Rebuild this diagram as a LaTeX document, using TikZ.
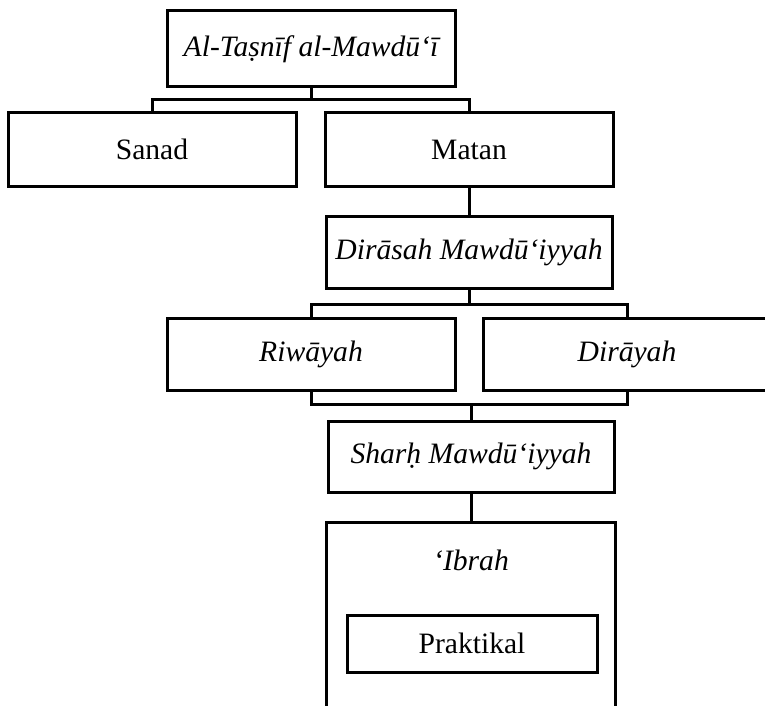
\documentclass[tikz,border=0pt]{standalone}
\usepackage{fontspec}
\setmainfont{Liberation Serif}
\begin{document}
\begin{tikzpicture}[x=1pt, y=-1pt, line width=3pt,
    every node/.style={font=\fontsize{29.6}{34}\selectfont},
    box/.style={draw, minimum width=288pt, minimum height=73pt, inner sep=0pt}]
		\useasboundingbox (0,0) rectangle (765,706);
		\clip (0,0) rectangle (765,706);
		\node[box, minimum height=76pt] (taxonomy) at (311,49) {\itshape Al-Taṣnīf al-Mawdū`ī};
		\node[box] (sanad) at (152,149.5) {Sanad};
		\node[box] (matan) at (469,149.5) {Matan};
		\node[box, minimum width=286pt, minimum height=72pt] (dirasah) at (469,252) {\itshape Dirāsah Mawdū`iyyah};
		\node[box, minimum height=72pt] (riwayah) at (311,354) {\itshape Riwāyah};
		\node[box, minimum height=72pt] (dirayah) at (627,354) {\itshape Dirāyah};
		\node[box, minimum width=286pt, minimum height=71pt] (sharh) at (471,456.5) {\itshape Sharḥ Mawdū`iyyah};
		\node[minimum width=286pt, minimum height=200pt, inner sep=0pt] (ibrah) at (471,624) {};
		\node (ibrahtext) at (471,560) {\itshape `Ibrah};
		\node[box, minimum width=250pt, minimum height=57pt] (praktikal) at (472,643.5) {Praktikal};
		% connectors
		\draw (taxonomy.south) -- ++(0,11) coordinate (fork1);
		\draw (sanad.north) |- (fork1) -| (matan.north);
		\draw (matan.south) -- (dirasah.north);
		\draw (dirasah.south) -- ++(0,15) coordinate (fork2);
		\draw (riwayah.north) |- (fork2) -| (dirayah.north);
		\draw (sharh.north) -- ++(0,-15) coordinate (fork3);
		\draw (riwayah.south) |- (fork3) -| (dirayah.south);
		\draw (sharh.south) -- (ibrah.north);
		\draw (ibrah.south west) -- (ibrah.north west) -- (ibrah.north east) -- (ibrah.south east);
\end{tikzpicture}
\end{document}
